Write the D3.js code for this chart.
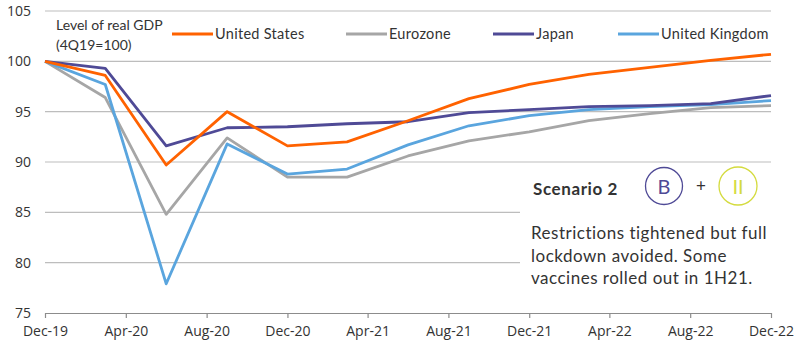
<!DOCTYPE html>
<html lang="en">
<head>
<meta charset="UTF-8">
<title>Level of real GDP - Scenario 2</title>
<script src="https://d3js.org/d3.v7.min.js"></script>
<style>
  body { margin: 0; background: #fff; }
  svg { display: block; }
  .tick-label { font-family: "Open Sans", "Liberation Sans", sans-serif; font-size: 13px; fill: #333; }
  .legend-text { font-family: "Lato", "Noto Sans", sans-serif; font-size: 14.5px; fill: #333; }
  .note { font-family: "Lato", "Noto Sans", sans-serif; fill: #333; }
</style>
</head>
<body>
<svg id="chart" width="800" height="345"></svg>
<script>
// quarterly points, Dec-19 .. Dec-22
const quarters = ["2019-12","2020-03","2020-06","2020-09","2020-12","2021-03","2021-06",
                  "2021-09","2021-12","2022-03","2022-06","2022-09","2022-12"];
const usValues  = [100, 98.6, 89.7, 95.0, 91.6, 92.0, 94.1, 96.3, 97.7, 98.7, 99.4, 100.1, 100.7];
const ezValues  = [100, 96.4, 84.8, 92.4, 88.5, 88.5, 90.6, 92.1, 93.0, 94.1, 94.8, 95.4, 95.6];
const jpValues  = [100, 99.3, 91.6, 93.4, 93.5, 93.8, 94.0, 94.9, 95.2, 95.5, 95.6, 95.8, 96.6];
const ukValues  = [100, 97.7, 77.9, 91.8, 88.8, 89.3, 91.7, 93.6, 94.6, 95.2, 95.5, 95.7, 96.1];
const seriesNames = ["United States", "Eurozone", "Japan", "United Kingdom"];
const seriesColors = ["#FF6200", "#A6A6A6", "#4F4A96", "#5AA5DE"];
const yTicks = [75, 80, 85, 90, 95, 100, 105];
const xTickLabels = ["Dec-19","Apr-20","Aug-20","Dec-20","Apr-21","Aug-21","Dec-21","Apr-22","Aug-22","Dec-22"];

const parseMonth = d3.timeParse("%Y-%m");
const parseLabel = d3.timeParse("%b-%y");
const dates = quarters.map(parseMonth);

const svg = d3.select("#chart");

const x = d3.scaleTime()
  .domain([parseMonth("2019-12"), parseMonth("2022-12")])
  .range([45, 771]);
const y = d3.scaleLinear().domain([75, 105]).range([313, 11]);

// horizontal gridlines
svg.append("g")
  .selectAll("line")
  .data(yTicks.filter(v => v > 75))
  .join("line")
  .attr("x1", 45).attr("x2", 771)
  .attr("y1", d => y(d)).attr("y2", d => y(d))
  .attr("stroke", "#BDBDBD").attr("stroke-width", 1.2);

// y labels
svg.append("g")
  .selectAll("text")
  .data(yTicks)
  .join("text")
  .attr("class", "tick-label")
  .attr("x", 31).attr("y", d => y(d) + 5)
  .attr("text-anchor", "end")
  .style("font-size", "14px")
  .text(d => d);

// x axis
const xAxis = d3.axisBottom(x)
  .tickValues(xTickLabels.map(parseLabel))
  .tickFormat(d3.timeFormat("%b-%y"))
  .tickSizeInner(5).tickSizeOuter(0).tickPadding(8);
const gx = svg.append("g").attr("transform", `translate(0,${y(75)})`).call(xAxis);
gx.select(".domain").attr("stroke", "#8C8C8C").attr("stroke-width", 1.2);
gx.selectAll(".tick line").attr("stroke", "#8C8C8C").attr("stroke-width", 1.2);
gx.selectAll(".tick text").attr("class", "tick-label").style("font-size", "14px");

// white panel behind the scenario note
svg.append("rect")
  .attr("x", 520).attr("y", 170).attr("width", 280).attr("height", 125)
  .attr("fill", "#fff");

// series lines
const allSeries = [usValues, ezValues, jpValues, ukValues];
const line = d3.line().x((d, i) => x(dates[i])).y(d => y(d));
const drawOrder = [1, 3, 2, 0];
drawOrder.forEach(k => {
  svg.append("path")
    .datum(allSeries[k])
    .attr("d", line)
    .attr("fill", "none")
    .attr("stroke", seriesColors[k])
    .attr("stroke-width", 2.8)
    .attr("stroke-linejoin", "round");
});

// title block
svg.append("text").attr("class", "legend-text").attr("x", 56).attr("y", 30)
  .style("font-size", "14px").text("Level of real GDP");
svg.append("text").attr("class", "legend-text").attr("x", 56).attr("y", 50)
  .style("font-size", "14px").text("(4Q19=100)");

// legend
const legendX = [172, 346, 493, 618];
seriesNames.forEach((name, i) => {
  const g = svg.append("g").attr("transform", `translate(${legendX[i]},34)`);
  g.append("line").attr("x1", 0).attr("x2", 41).attr("y1", 0).attr("y2", 0)
    .attr("stroke", seriesColors[i]).attr("stroke-width", 3);
  g.append("text").attr("class", "legend-text").attr("x", 43).attr("y", 5)
    .style("letter-spacing", "0.3px").text(name);
});

// scenario note
svg.append("text").attr("class", "note").attr("x", 533).attr("y", 195)
  .style("font-size", "17px").style("font-weight", "bold")
  .style("letter-spacing", "0.6px").text("Scenario 2");

svg.append("circle").attr("cx", 664).attr("cy", 186).attr("r", 18.5)
  .attr("fill", "none").attr("stroke", "#4F4A96").attr("stroke-width", 1.3);
svg.append("text").attr("class", "note").attr("x", 664).attr("y", 193.5)
  .attr("text-anchor", "middle").style("font-size", "20px").style("fill", "#4F4A96").text("B");
svg.append("text").attr("class", "note").attr("x", 701).attr("y", 192)
  .attr("text-anchor", "middle").style("font-size", "17px").text("+");
svg.append("circle").attr("cx", 738).attr("cy", 186).attr("r", 19)
  .attr("fill", "none").attr("stroke", "#D4DB3E").attr("stroke-width", 1.3);
svg.append("text").attr("class", "note").attr("x", 738).attr("y", 193.5)
  .attr("text-anchor", "middle").style("font-size", "20px").style("fill", "#D4DB3E").text("II");

const noteLines = ["Restrictions tightened but full", "lockdown avoided. Some", "vaccines rolled out in 1H21."];
svg.append("g").selectAll("text")
  .data(noteLines)
  .join("text")
  .attr("class", "note")
  .attr("x", 531).attr("y", (d, i) => 239 + i * 22.5)
  .style("font-size", "17px")
  .style("letter-spacing", "0.5px")
  .text(d => d);
</script>
</body>
</html>
